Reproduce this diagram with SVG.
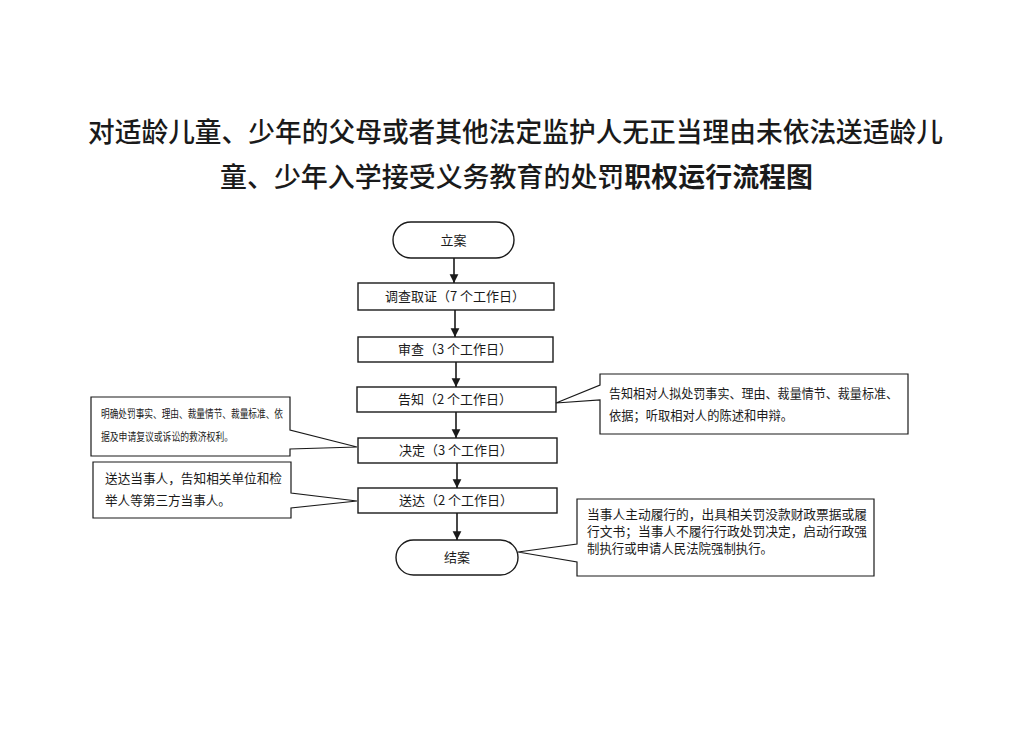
<svg xmlns="http://www.w3.org/2000/svg" width="1033" height="730" viewBox="0 0 1033 730">
<style>
text{font-family:"Noto Sans CJK SC","Liberation Sans",sans-serif;fill:#1a1a1a}
.title{font-size:27px;font-weight:500;text-anchor:middle}
.b{font-weight:700}
.box{fill:#fff;stroke:#1a1a1a;stroke-width:1.4}
.lbl{font-size:13px;text-anchor:middle}
.co{fill:#fff;stroke:#1a1a1a;stroke-width:1.2}
.ct{font-size:12.6px}
.cs{font-size:11px}
.arr{stroke:#1a1a1a;stroke-width:1.6;fill:none;marker-end:url(#ah)}
</style>
<defs>
<marker id="ah" viewBox="0 0 10 10" refX="10" refY="5" markerWidth="5.5" markerHeight="6" markerUnits="strokeWidth" orient="auto">
<path d="M0,0 L10,5 L0,10 Z" fill="#1a1a1a"/>
</marker>
</defs>
<rect width="1033" height="730" fill="#fff"/>
<g id="title">
<text class="title" x="515.5" y="142" textLength="855" lengthAdjust="spacingAndGlyphs">对适龄儿童、少年的父母或者其他法定监护人无正当理由未依法送适龄儿</text>
<text class="title" x="516.5" y="187" textLength="593" lengthAdjust="spacingAndGlyphs">童、少年入学接受义务教育的处罚<tspan class="b">职权运行流程图</tspan></text>
</g>
<g id="connectors">
<line class="arr" x1="454" y1="258" x2="454" y2="283"/>
<line class="arr" x1="455" y1="310" x2="455" y2="337"/>
<line class="arr" x1="456" y1="362" x2="456" y2="387"/>
<line class="arr" x1="456" y1="412" x2="456" y2="438"/>
<line class="arr" x1="457" y1="463" x2="457" y2="488"/>
<line class="arr" x1="457" y1="513" x2="457" y2="540"/>
</g>
<g id="n-start">
<rect class="box" x="393" y="222" width="121" height="36" rx="18" ry="18"/>
<text class="lbl" x="453.5" y="245">立案</text>
</g>
<g id="n-investigate">
<rect class="box" x="358" y="283" width="196" height="27"/>
<text class="lbl" x="455" y="301">调查取证（7 个工作日）</text>
</g>
<g id="n-review">
<rect class="box" x="358" y="337" width="195" height="25"/>
<text class="lbl" x="455" y="354">审查（3 个工作日）</text>
</g>
<g id="n-notify">
<rect class="box" x="357" y="387" width="199" height="25"/>
<text class="lbl" x="455" y="404">告知（2 个工作日）</text>
</g>
<g id="n-decide">
<rect class="box" x="358" y="438" width="199" height="25"/>
<text class="lbl" x="456" y="455">决定（3 个工作日）</text>
</g>
<g id="n-deliver">
<rect class="box" x="358" y="488" width="199" height="25"/>
<text class="lbl" x="456" y="505">送达（2 个工作日）</text>
</g>
<g id="n-end">
<rect class="box" x="396" y="540" width="122" height="35" rx="17.5" ry="17.5"/>
<text class="lbl" x="457" y="562">结案</text>
</g>
<g id="c-decide">
<path class="co" d="M91,397 H290 V430 L357,447 L290,449 V456 H91 Z"/>
<text class="cs" x="101" y="418" textLength="182" lengthAdjust="spacingAndGlyphs">明确处罚事实、理由、裁量情节、裁量标准、依</text>
<text class="cs" x="101" y="441" textLength="132" lengthAdjust="spacingAndGlyphs">据及申请复议或诉讼的救济权利。</text>
</g>
<g id="c-deliver">
<path class="co" d="M93,462 H291 V493 L357,501 L291,508 V518 H93 Z"/>
<text class="ct" x="105" y="483" textLength="177" lengthAdjust="spacingAndGlyphs">送达当事人，告知相关单位和检</text>
<text class="ct" x="105" y="505">举人等第三方当事人。</text>
</g>
<g id="c-notify">
<path class="co" d="M600,374 H908 V434 H600 V400 L556,403 L600,385 Z"/>
<text class="ct" x="609" y="398" textLength="289" lengthAdjust="spacingAndGlyphs">告知相对人拟处罚事实、理由、裁量情节、裁量标准、</text>
<text class="ct" x="609" y="420" textLength="184" lengthAdjust="spacingAndGlyphs">依据；听取相对人的陈述和申辩。</text>
</g>
<g id="c-end">
<path class="co" d="M577,499 H874 V576 H577 V562 L518,552 L577,544 Z"/>
<text class="ct" x="587" y="519" textLength="280" lengthAdjust="spacingAndGlyphs">当事人主动履行的，出具相关罚没款财政票据或履</text>
<text class="ct" x="587" y="536" textLength="280" lengthAdjust="spacingAndGlyphs">行文书；当事人不履行行政处罚决定，启动行政强</text>
<text class="ct" x="587" y="553" textLength="186" lengthAdjust="spacingAndGlyphs">制执行或申请人民法院强制执行。</text>
</g>
</svg>
